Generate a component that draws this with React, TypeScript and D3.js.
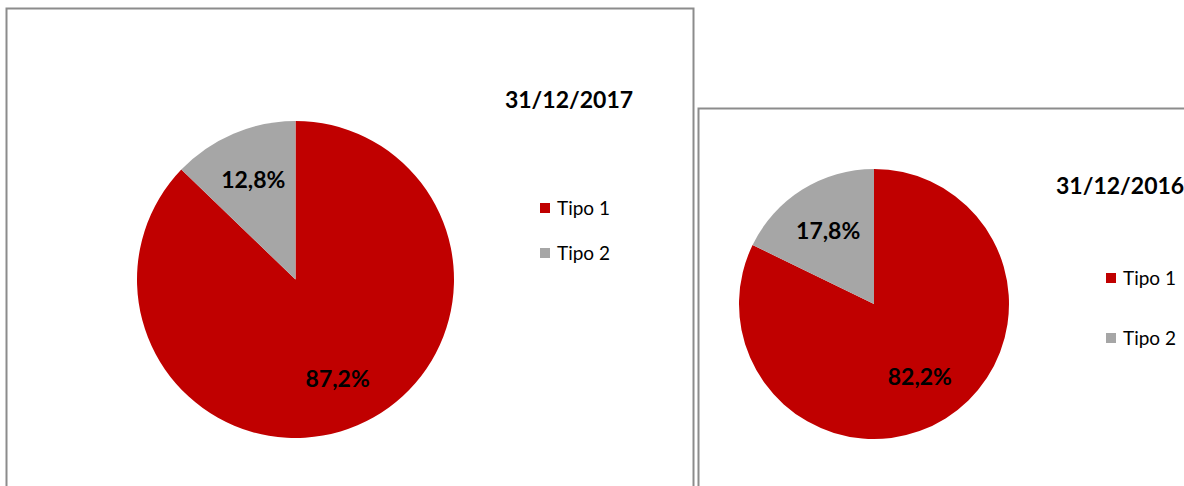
import { useEffect, useRef } from 'react'
import * as d3 from 'd3'

const CATEGORIES = ['Tipo 1', 'Tipo 2']
const COLORS = ['#C00000', '#A6A6A6']
const VALUES_2017 = [87.2, 12.8]
const VALUES_2016 = [82.2, 17.8]
const TITLES = ['31/12/2017', '31/12/2016']

const FONT = "Lato, Carlito, Calibri, 'Open Sans', sans-serif"

type Panel = {
  title: string
  values: number[]
  box: { x: number; y: number; w: number; h: number }
  cx: number
  cy: number
  r: number
  labelR: number
  titleX: number
  titleY: number
  titleAnchor: string
  legendX: number
  legendY: number
  legendGap: number
}

export default function App() {
  const ref = useRef<SVGSVGElement>(null)

  useEffect(() => {
    document.body.style.margin = '0'
    if (!ref.current) return
    const svg = d3.select(ref.current)
    svg.selectAll('*').remove()

    const panels: Panel[] = [
      {
        title: TITLES[0],
        values: VALUES_2017,
        box: { x: 6.5, y: 8.5, w: 687, h: 600 },
        cx: 295.5,
        cy: 279.5,
        r: 158.5,
        labelR: 0.68,
        titleX: 569,
        titleY: 108,
        titleAnchor: 'middle',
        legendX: 540,
        legendY: 203,
        legendGap: 45,
      },
      {
        title: TITLES[1],
        values: VALUES_2016,
        box: { x: 698.5, y: 108.5, w: 600, h: 600 },
        cx: 874,
        cy: 304,
        r: 135,
        labelR: 0.64,
        titleX: 1056,
        titleY: 194,
        titleAnchor: 'start',
        legendX: 1106,
        legendY: 273,
        legendGap: 60,
      },
    ]

    const color = d3.scaleOrdinal<string, string>().domain(CATEGORIES).range(COLORS)

    panels.forEach((p) => {
      const g = svg.append('g')

      g.append('rect')
        .attr('x', p.box.x)
        .attr('y', p.box.y)
        .attr('width', p.box.w)
        .attr('height', p.box.h)
        .attr('fill', '#fff')
        .attr('stroke', '#8c8c8c')
        .attr('stroke-width', 2)

      const data = CATEGORIES.map((c, i) => ({ cat: c, value: p.values[i] }))
      const pie = d3
        .pie<{ cat: string; value: number }>()
        .value((d) => d.value)
        .sort(null)
      const arcs = pie(data)
      const arc = d3.arc<d3.PieArcDatum<{ cat: string; value: number }>>().innerRadius(0).outerRadius(p.r)
      const labelArc = d3
        .arc<d3.PieArcDatum<{ cat: string; value: number }>>()
        .innerRadius(p.r * p.labelR)
        .outerRadius(p.r * p.labelR)

      const pg = g.append('g').attr('transform', `translate(${p.cx},${p.cy})`)
      pg.selectAll('path')
        .data(arcs)
        .enter()
        .append('path')
        .attr('d', arc)
        .attr('fill', (d) => color(d.data.cat))

      pg.selectAll('text')
        .data(arcs)
        .enter()
        .append('text')
        .attr('transform', (d) => `translate(${labelArc.centroid(d)})`)
        .attr('text-anchor', 'middle')
        .attr('dy', '0.35em')
        .attr('font-family', FONT)
        .attr('font-weight', 700)
        .attr('font-size', '23px')
        .attr('fill', '#000')
        .text((d) => d.data.value.toFixed(1).replace('.', ',') + '%')

      g.append('text')
        .attr('x', p.titleX)
        .attr('y', p.titleY)
        .attr('text-anchor', p.titleAnchor)
        .attr('font-family', FONT)
        .attr('font-weight', 700)
        .attr('font-size', '23px')
        .attr('fill', '#000')
        .text(p.title)

      const lg = g
        .selectAll('g.legend')
        .data(CATEGORIES)
        .enter()
        .append('g')
        .attr('transform', (_, i) => `translate(${p.legendX},${p.legendY + i * p.legendGap})`)
      lg.append('rect').attr('width', 10).attr('height', 10).attr('fill', (d) => color(d))
      lg.append('text')
        .attr('x', 17)
        .attr('y', 12)
        .attr('font-family', FONT)
        .attr('font-size', '19px')
        .attr('fill', '#000')
        .text((d) => d)
    })

    return () => {
      svg.selectAll('*').remove()
    }
  }, [])

  return <svg ref={ref} width={1184} height={486} style={{ display: 'block' }} />
}
